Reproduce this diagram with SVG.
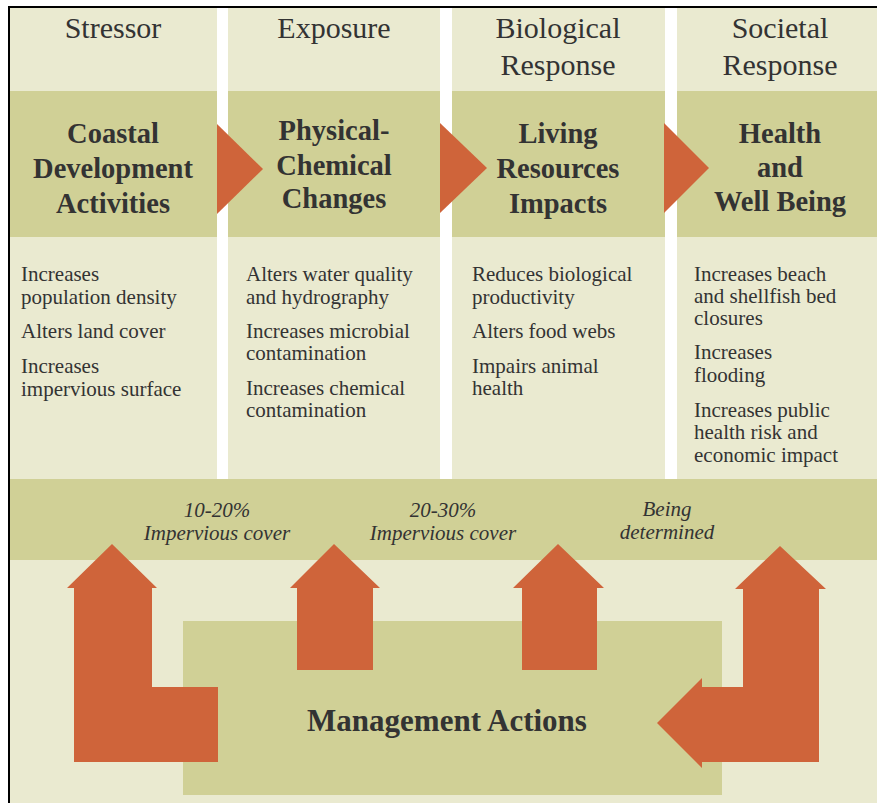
<svg xmlns="http://www.w3.org/2000/svg" width="877" height="803" viewBox="0 0 877 803" font-family="Liberation Serif, Times New Roman, serif">
<style>
.light{fill:#EAEAD0}
.dark{fill:#D0D096}
.arrow{fill:#CF643A}
text{fill:#333}
.hdr{font-size:30px;text-anchor:middle}
.ttl{font-size:28.5px;font-weight:bold;text-anchor:middle}
.body{font-size:21px}
.ital{font-size:21px;font-style:italic;text-anchor:middle}
.mgmt{font-size:31px;font-weight:bold;text-anchor:middle}
</style>
<rect x="0" y="0" width="877" height="803" fill="#fff"/>
<line x1="8" y1="7" x2="877" y2="7" stroke="#000" stroke-width="2"/>
<line x1="9" y1="6" x2="9" y2="803" stroke="#000" stroke-width="2"/>

<g id="col-stressor">
<rect class="light" x="10" y="8" width="207" height="83"/>
<rect class="dark" x="10" y="91" width="207" height="146"/>
<rect class="light" x="10" y="237" width="207" height="242"/>
<text class="hdr" x="113" y="38">Stressor</text>
<text class="ttl" x="113" y="143">Coastal</text>
<text class="ttl" x="113" y="178">Development</text>
<text class="ttl" x="113" y="213">Activities</text>
<text class="body" x="21" y="281">Increases</text>
<text class="body" x="21" y="304">population density</text>
<text class="body" x="21" y="338">Alters land cover</text>
<text class="body" x="21" y="373">Increases</text>
<text class="body" x="21" y="396">impervious surface</text>
</g>

<g id="col-exposure">
<rect class="light" x="228" y="8" width="212" height="83"/>
<rect class="dark" x="228" y="91" width="212" height="146"/>
<rect class="light" x="228" y="237" width="212" height="242"/>
<text class="hdr" x="334" y="38">Exposure</text>
<text class="ttl" x="334" y="140">Physical-</text>
<text class="ttl" x="334" y="175">Chemical</text>
<text class="ttl" x="334" y="208">Changes</text>
<text class="body" x="246" y="281">Alters water quality</text>
<text class="body" x="246" y="304">and hydrography</text>
<text class="body" x="246" y="338">Increases microbial</text>
<text class="body" x="246" y="360">contamination</text>
<text class="body" x="246" y="395">Increases chemical</text>
<text class="body" x="246" y="417">contamination</text>
</g>

<g id="col-biological">
<rect class="light" x="452" y="8" width="213" height="83"/>
<rect class="dark" x="452" y="91" width="213" height="146"/>
<rect class="light" x="452" y="237" width="213" height="242"/>
<text class="hdr" x="558" y="38">Biological</text>
<text class="hdr" x="558" y="75">Response</text>
<text class="ttl" x="558" y="143">Living</text>
<text class="ttl" x="558" y="178">Resources</text>
<text class="ttl" x="558" y="213">Impacts</text>
<text class="body" x="472" y="281">Reduces biological</text>
<text class="body" x="472" y="304">productivity</text>
<text class="body" x="472" y="338">Alters food webs</text>
<text class="body" x="472" y="373">Impairs animal</text>
<text class="body" x="472" y="395">health</text>
</g>

<g id="col-societal">
<rect class="light" x="677" y="8" width="200" height="83"/>
<rect class="dark" x="677" y="91" width="200" height="146"/>
<rect class="light" x="677" y="237" width="200" height="242"/>
<text class="hdr" x="780" y="38">Societal</text>
<text class="hdr" x="780" y="75">Response</text>
<text class="ttl" x="780" y="143">Health</text>
<text class="ttl" x="780" y="177">and</text>
<text class="ttl" x="780" y="211">Well Being</text>
<text class="body" x="694" y="281">Increases beach</text>
<text class="body" x="694" y="303">and shellfish bed</text>
<text class="body" x="694" y="325">closures</text>
<text class="body" x="694" y="359">Increases</text>
<text class="body" x="694" y="382">flooding</text>
<text class="body" x="694" y="417">Increases public</text>
<text class="body" x="694" y="439">health risk and</text>
<text class="body" x="694" y="462">economic impact</text>
</g>

<g id="threshold-band">
<rect class="dark" x="10" y="479" width="867" height="81"/>
<rect class="light" x="10" y="560" width="867" height="243"/>
<text class="ital" x="217" y="517">10-20%</text>
<text class="ital" x="217" y="540">Impervious cover</text>
<text class="ital" x="443" y="517">20-30%</text>
<text class="ital" x="443" y="540">Impervious cover</text>
<text class="ital" x="667" y="516">Being</text>
<text class="ital" x="667" y="539">determined</text>
</g>

<g id="management-actions">
<rect class="dark" x="183" y="621" width="539" height="174"/>
<text class="mgmt" x="447" y="731">Management Actions</text>
</g>

<g id="connectors">
<polygon class="arrow" points="217,124 263,169 217,214"/>
<polygon class="arrow" points="440,123 487,168 440,213"/>
<polygon class="arrow" points="664,123 709,168 664,213"/>
<polygon class="arrow" points="112,544 157,588 152,588 152,687 218,687 218,762 74,762 74,588 67,588"/>
<polygon class="arrow" points="334,544 380,588 373,588 373,670 297,670 297,588 290,588"/>
<polygon class="arrow" points="558,544 604,588 597,588 597,670 522,670 522,588 513,588"/>
<polygon class="arrow" points="780,546 826,589 819,589 819,762 702,762 702,768 657,723 702,678 702,687 743,687 743,589 735,589"/>
</g>
</svg>
